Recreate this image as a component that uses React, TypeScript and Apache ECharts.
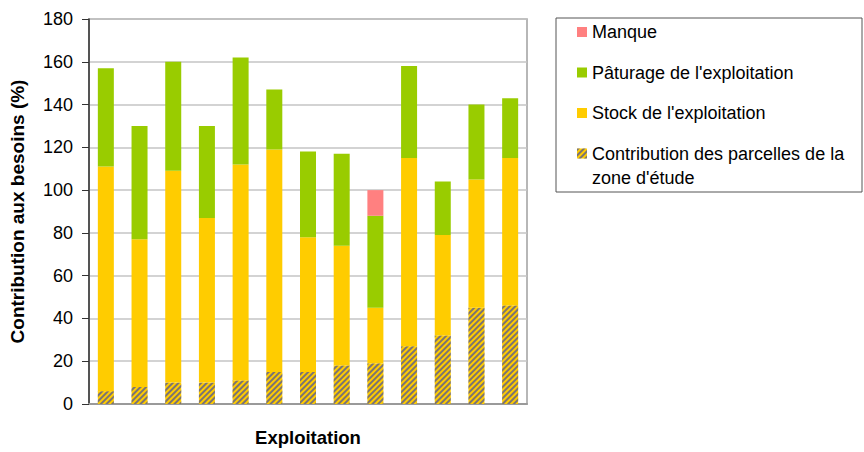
import React, { useEffect, useRef } from "react";
import * as echarts from "echarts";

// Exploitations (x axis labels are hidden, one bar per farm)
const exploitations = ["E1", "E2", "E3", "E4", "E5", "E6", "E7", "E8", "E9", "E10", "E11", "E12", "E13"];

// Contribution to needs (%), stacked from bottom to top
const contributionParcelles = [6, 8, 10, 10, 11, 15, 15, 18, 19, 27, 32, 45, 46];
const stockExploitation = [105, 69, 99, 77, 101, 104, 63, 56, 26, 88, 47, 60, 69];
const paturageExploitation = [46, 53, 51, 43, 50, 28, 40, 43, 43, 43, 25, 35, 28];
const manque = [null, null, null, null, null, null, null, null, 12, null, null, null, null];

const yTicks = { min: 0, max: 180, interval: 20 };

const NAME_MANQUE = "Manque";
const NAME_PATURAGE = "Pâturage de l'exploitation";
const NAME_STOCK = "Stock de l'exploitation";
const NAME_CONTRIB = "Contribution des parcelles de la zone d'étude";

const FONT = "'Liberation Sans', Arial, sans-serif";
const LEGEND_FONT_SIZE = 18;

export default function App() {
  const ref = useRef<HTMLDivElement>(null);

  useEffect(() => {
    if (!ref.current) return;
    const chart = echarts.init(ref.current, null, { renderer: "svg" });

    const barWidth = 16;
    const hatch = {
      color: "rgba(100, 100, 135, 0.85)",
      symbol: "rect",
      symbolSize: 1,
      dashArrayX: [1, 0],
      dashArrayY: [2, 1.6],
      rotation: -Math.PI / 4,
    };

    chart.setOption({
      animation: false,
      backgroundColor: "#ffffff",
      textStyle: { fontFamily: FONT },
      grid: {
        left: 87,
        right: 864 - 527,
        top: 19,
        bottom: 452 - 409,
        show: true,
        borderColor: "#a0a0a0",
        borderWidth: 1.5,
        containLabel: false,
      },
      graphic: [
        {
          type: "rect",
          shape: { x: 556, y: 18, width: 306, height: 174 },
          style: { fill: "none", stroke: "#555555", lineWidth: 1 },
          silent: true,
        },
        {
          // second line of the last legend entry
          type: "text",
          x: 592,
          y: 178,
          style: {
            text: "zone d'étude",
            fontFamily: FONT,
            fontSize: LEGEND_FONT_SIZE,
            fill: "#000000",
            verticalAlign: "middle",
            align: "left",
          },
          silent: true,
        },
      ],
      legend: [
        {
          data: [NAME_MANQUE, NAME_PATURAGE, NAME_STOCK, NAME_CONTRIB],
          orient: "vertical",
          left: 577,
          top: 22,
          padding: 0,
          itemGap: 20.5,
          itemWidth: 10,
          itemHeight: 10,
          icon: "rect",
          selectedMode: false,
          formatter: (name: string) =>
            name === NAME_CONTRIB ? "Contribution des parcelles de la" : name,
          textStyle: {
            fontFamily: FONT,
            fontSize: LEGEND_FONT_SIZE,
            lineHeight: 20,
            color: "#000000",
          },
        },
      ],
      xAxis: {
        type: "category",
        data: exploitations,
        name: "Exploitation",
        nameLocation: "middle",
        nameGap: 24,
        nameTextStyle: { fontFamily: FONT, fontSize: 18.5, fontWeight: "bold", color: "#000000" },
        axisLine: { show: true, lineStyle: { color: "#9a9a9a", width: 2 } },
        axisTick: { show: false },
        axisLabel: { show: false },
      },
      yAxis: {
        type: "value",
        min: yTicks.min,
        max: yTicks.max,
        interval: yTicks.interval,
        name: "Contribution aux besoins (%)",
        nameLocation: "middle",
        nameGap: 62,
        nameTextStyle: { fontFamily: FONT, fontSize: 19, fontWeight: "bold", color: "#000000" },
        axisLine: { show: true, lineStyle: { color: "#333333", width: 1.5 } },
        axisTick: { show: true, inside: false, length: 7, lineStyle: { color: "#333333", width: 1 } },
        axisLabel: { margin: 16, fontFamily: FONT, fontSize: 18, color: "#000000" },
        splitLine: { show: true, lineStyle: { color: "#c4c4c4", width: 1.5 } },
      },
      series: [
        {
          name: NAME_CONTRIB,
          type: "bar",
          stack: "total",
          barWidth,
          data: contributionParcelles,
          itemStyle: { color: "#FFCC00", decal: hatch },
        },
        {
          name: NAME_STOCK,
          type: "bar",
          stack: "total",
          barWidth,
          data: stockExploitation,
          itemStyle: { color: "#FFCC00" },
        },
        {
          name: NAME_PATURAGE,
          type: "bar",
          stack: "total",
          barWidth,
          data: paturageExploitation,
          itemStyle: { color: "#99CC00" },
        },
        {
          name: NAME_MANQUE,
          type: "bar",
          stack: "total",
          barWidth,
          data: manque,
          itemStyle: { color: "#FF8080" },
        },
      ],
    });

    return () => chart.dispose();
  }, []);

  return (
    <div
      ref={ref}
      style={{ position: "absolute", left: 0, top: 0, width: 864, height: 452 }}
    />
  );
}
